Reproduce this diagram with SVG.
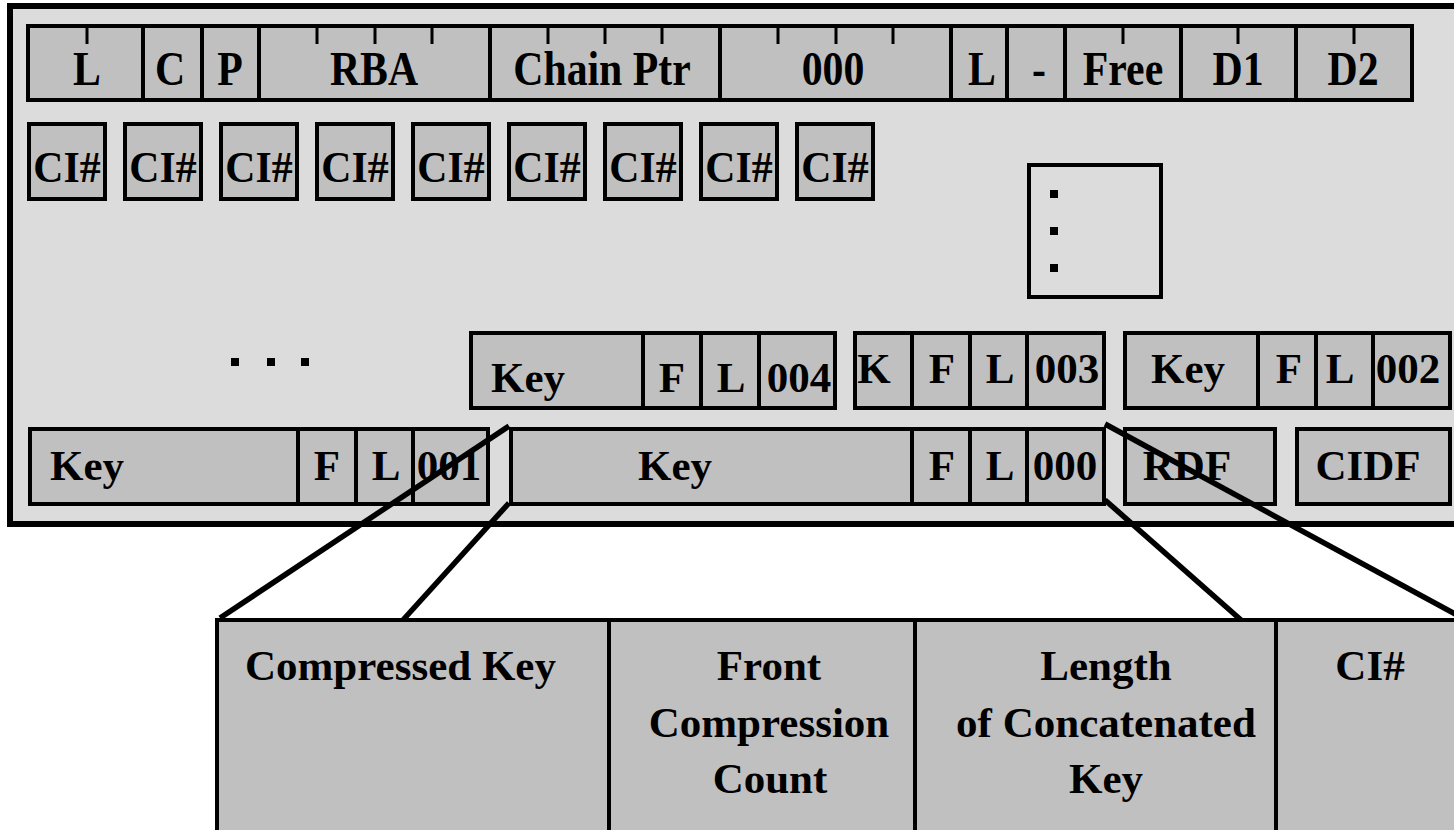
<svg xmlns="http://www.w3.org/2000/svg" width="1454" height="830" viewBox="0 0 1454 830">
  <style>
    .panel { fill: #dcdcdc; stroke: #000; stroke-width: 6; }
    .cell { fill: #c0c0c0; stroke: #000; stroke-width: 4; }
    .div { stroke: #000; stroke-width: 4; fill: none; }
    .tick { stroke: #000; stroke-width: 3; fill: none; }
    .frame { fill: none; stroke: #000; stroke-width: 4; }
    .dot { fill: #000; }
    text { font-family: "Liberation Serif", "Times New Roman", serif; font-weight: bold; fill: #000; }
    .t48 { font-size: 48px; text-anchor: middle; }
    .t44 { font-size: 44px; text-anchor: middle; }
    .t42 { font-size: 42px; text-anchor: middle; }
    .t43 { font-size: 43px; text-anchor: middle; }
    .t43s { font-size: 43px; text-anchor: start; }
    .wire { stroke: #000; stroke-width: 5.5; fill: none; stroke-linecap: butt; }
  </style>

  <!-- page background -->
  <rect x="0" y="0" width="1454" height="830" fill="#ffffff"/>

  <!-- control interval panel -->
  <g id="panel">
    <rect class="panel" x="10" y="6" width="1462" height="518"/>
  </g>

  <!-- header row of fields -->
  <g id="header">
    <rect class="cell" x="28" y="26" width="1384" height="74"/>
    <path class="div" d="M143 26V100M202 26V100M259 26V100M490 26V100M720 26V100M951 26V100M1007 26V100M1065 26V100M1181 26V100M1296 26V100"/>
    <path class="tick" d="M87 26V44M317 26V44M375 26V44M432 26V44M548 26V44M605 26V44M662 26V44M778 26V44M836 26V44M893 26V44M1123 26V44M1238 26V44M1354 26V44"/>
    <text class="t48" transform="matrix(0.87 0 0 1 87 85)">L</text>
    <text class="t48" transform="matrix(0.87 0 0 1 170 85)">C</text>
    <text class="t48" transform="matrix(0.87 0 0 1 230 85)">P</text>
    <text class="t48" transform="matrix(0.87 0 0 1 374 85)">RBA</text>
    <text class="t48" transform="matrix(0.87 0 0 1 602 85)">Chain Ptr</text>
    <text class="t48" transform="matrix(0.87 0 0 1 833 85)">000</text>
    <text class="t48" transform="matrix(0.87 0 0 1 982 85)">L</text>
    <text class="t48" transform="matrix(0.87 0 0 1 1039 85)">-</text>
    <text class="t48" transform="matrix(0.87 0 0 1 1123 85)">Free</text>
    <text class="t48" transform="matrix(0.87 0 0 1 1238 85)">D1</text>
    <text class="t48" transform="matrix(0.87 0 0 1 1353 85)">D2</text>
  </g>

  <!-- CI# entries -->
  <g id="ci-row">
    <rect class="cell" x="29" y="124" width="76" height="75"/>
    <rect class="cell" x="125" y="124" width="76" height="75"/>
    <rect class="cell" x="221" y="124" width="76" height="75"/>
    <rect class="cell" x="317" y="124" width="76" height="75"/>
    <rect class="cell" x="413" y="124" width="76" height="75"/>
    <rect class="cell" x="509" y="124" width="76" height="75"/>
    <rect class="cell" x="605" y="124" width="76" height="75"/>
    <rect class="cell" x="701" y="124" width="76" height="75"/>
    <rect class="cell" x="797" y="124" width="76" height="75"/>
    <text class="t44" transform="matrix(0.95 0 0 1 67 182)">CI#</text>
    <text class="t44" transform="matrix(0.95 0 0 1 163 182)">CI#</text>
    <text class="t44" transform="matrix(0.95 0 0 1 259 182)">CI#</text>
    <text class="t44" transform="matrix(0.95 0 0 1 355 182)">CI#</text>
    <text class="t44" transform="matrix(0.95 0 0 1 451 182)">CI#</text>
    <text class="t44" transform="matrix(0.95 0 0 1 547 182)">CI#</text>
    <text class="t44" transform="matrix(0.95 0 0 1 643 182)">CI#</text>
    <text class="t44" transform="matrix(0.95 0 0 1 739 182)">CI#</text>
    <text class="t44" transform="matrix(0.95 0 0 1 835 182)">CI#</text>
  </g>

  <!-- free space box -->
  <g id="free-space">
    <rect class="frame" x="1029" y="165" width="132" height="132"/>
    <rect class="dot" x="1050" y="190" width="8" height="8"/>
    <rect class="dot" x="1050" y="227" width="8" height="8"/>
    <rect class="dot" x="1050" y="264" width="8" height="8"/>
  </g>

  <!-- ellipsis -->
  <g id="ellipsis">
    <rect class="dot" x="231" y="358" width="8" height="8"/>
    <rect class="dot" x="267" y="358" width="8" height="8"/>
    <rect class="dot" x="301" y="358" width="8" height="8"/>
  </g>

  <!-- record 004 -->
  <g id="rec004">
    <rect class="cell" x="471" y="333" width="364" height="75"/>
    <path class="div" d="M643 333V408M701 333V408M759 333V408"/>
    <text class="t43" x="528" y="392">Key</text>
    <text class="t43" x="672" y="392">F</text>
    <text class="t43" x="731" y="392">L</text>
    <text class="t43" x="799" y="392">004</text>
  </g>

  <!-- record 003 -->
  <g id="rec003">
    <rect class="cell" x="855" y="333" width="249" height="75"/>
    <path class="div" d="M912 333V408M970 333V408M1027 333V408"/>
    <text class="t43" x="874" y="383">K</text>
    <text class="t43" x="942" y="383">F</text>
    <text class="t43" x="1000" y="383">L</text>
    <text class="t43" x="1067" y="383">003</text>
  </g>

  <!-- record 002 -->
  <g id="rec002">
    <rect class="cell" x="1125" y="333" width="325" height="75"/>
    <path class="div" d="M1258 333V408M1316 333V408M1373 333V408"/>
    <text class="t43" x="1188" y="383">Key</text>
    <text class="t43" x="1289" y="383">F</text>
    <text class="t43" x="1340" y="383">L</text>
    <text class="t43" x="1408" y="383">002</text>
  </g>

  <!-- record 001 -->
  <g id="rec001">
    <rect class="cell" x="30" y="429" width="458" height="75"/>
    <path class="div" d="M298 429V504M356 429V504M413 429V504"/>
    <text class="t43" x="87" y="480">Key</text>
    <text class="t43" x="327" y="480">F</text>
    <text class="t43" x="386" y="480">L</text>
    <text class="t43" x="449" y="480">001</text>
  </g>

  <!-- record 000 -->
  <g id="rec000">
    <rect class="cell" x="511" y="429" width="593" height="75"/>
    <path class="div" d="M912 429V504M970 429V504M1027 429V504"/>
    <text class="t43" x="675" y="480">Key</text>
    <text class="t43" x="942" y="480">F</text>
    <text class="t43" x="1000" y="480">L</text>
    <text class="t43" x="1065" y="480">000</text>
  </g>

  <!-- RDF -->
  <g id="rdf">
    <rect class="cell" x="1125" y="429" width="150" height="75"/>
    <text class="t43" x="1187" y="480">RDF</text>
  </g>

  <!-- CIDF -->
  <g id="cidf">
    <rect class="cell" x="1297" y="429" width="153" height="75"/>
    <text class="t43" x="1368" y="480">CIDF</text>
  </g>

  <!-- expanded record layout -->
  <g id="record-layout">
    <rect class="cell" x="217" y="620" width="1260" height="230"/>
    <path class="div" d="M609 620V830M915 620V830M1276 620V830"/>
    <text class="t43s" x="245" y="680">Compressed Key</text>
    <text class="t43" x="769" y="680">Front</text>
    <text class="t43" x="769" y="737">Compression</text>
    <text class="t43" x="770" y="793">Count</text>
    <text class="t43" x="1106" y="680">Length</text>
    <text class="t43" x="1106" y="737">of Concatenated</text>
    <text class="t43" x="1106" y="793">Key</text>
    <text class="t43" x="1370" y="680">CI#</text>
  </g>

  <!-- expansion lines -->
  <g id="connectors">
    <line class="wire" x1="220" y1="618" x2="509" y2="426"/>
    <line class="wire" x1="509" y1="503" x2="403" y2="620"/>
    <line class="wire" x1="1105" y1="500" x2="1241" y2="620"/>
    <line class="wire" x1="1105" y1="424" x2="1470" y2="622"/>
  </g>
</svg>
